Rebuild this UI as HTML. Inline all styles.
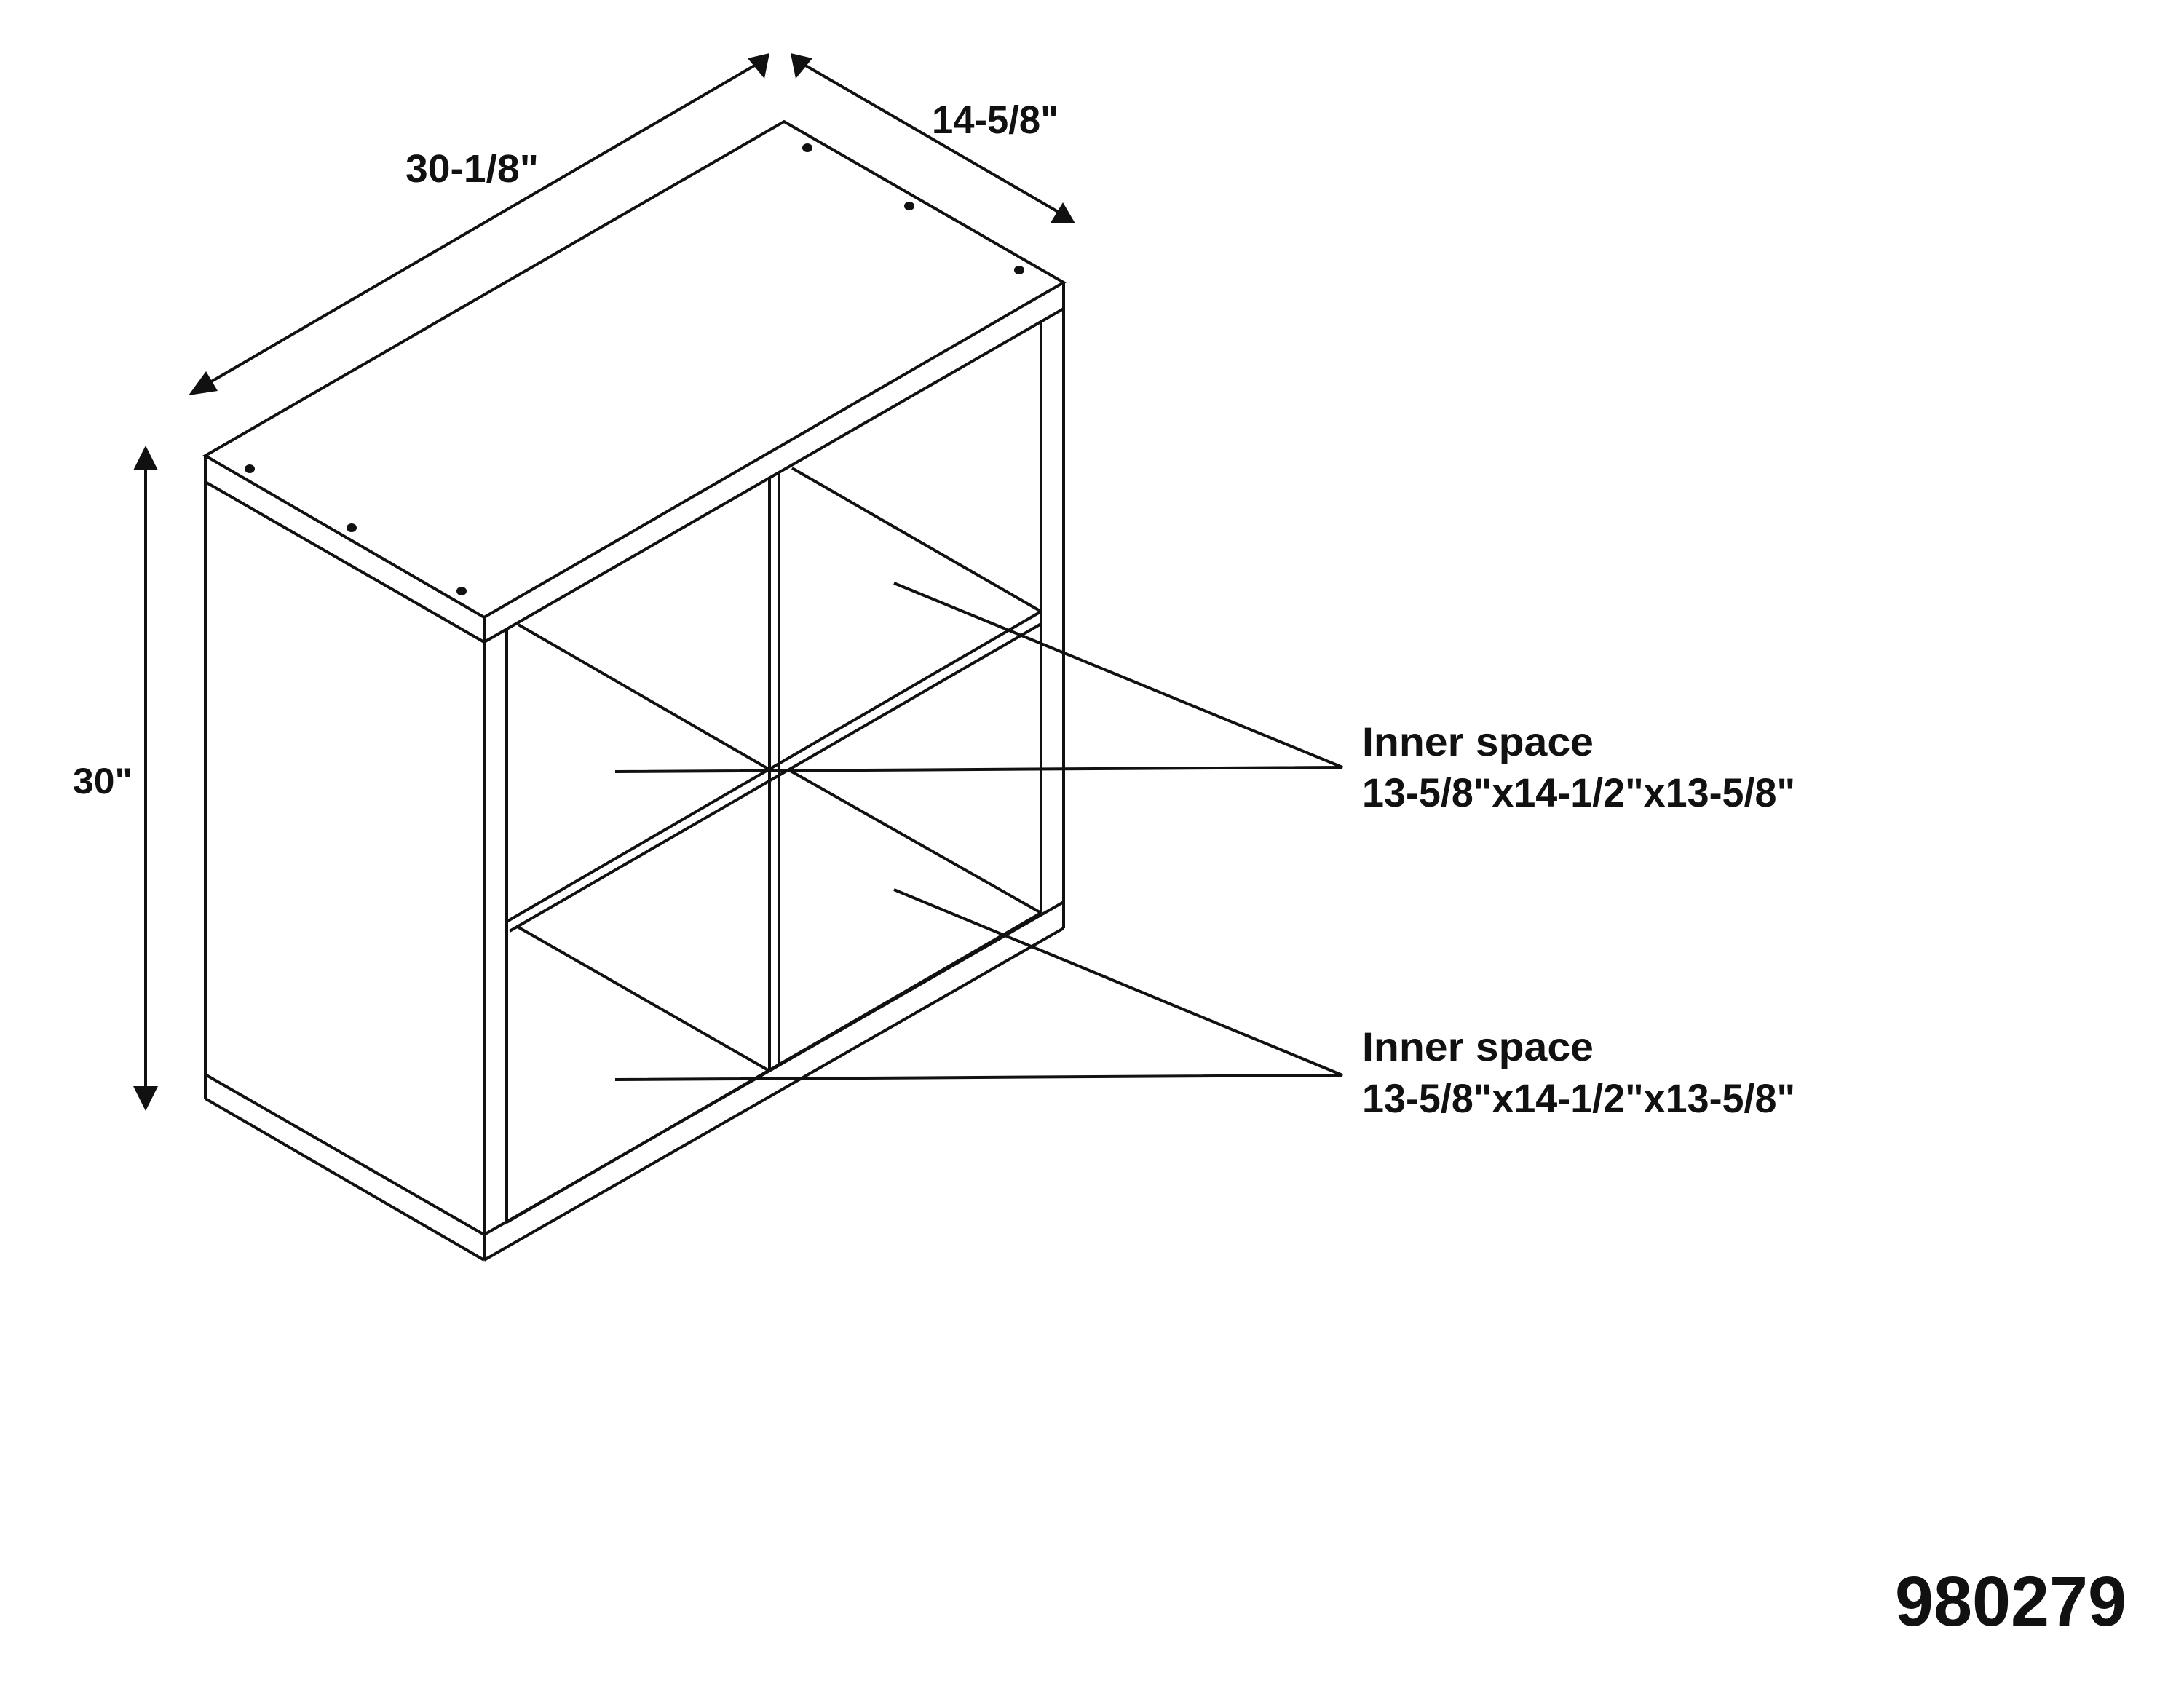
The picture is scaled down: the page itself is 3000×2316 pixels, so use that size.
<!DOCTYPE html>
<html><head><meta charset="utf-8"><style>
html,body{margin:0;padding:0;background:#fff;}
svg{display:block;}
text{font-family:"Liberation Sans Narrow","Liberation Sans",sans-serif;font-weight:bold;fill:#111;}
</style></head><body>
<svg width="3000" height="2316" viewBox="0 0 3000 2316" xmlns="http://www.w3.org/2000/svg">
<rect width="3000" height="2316" fill="#fff"/>
<g stroke="#111" stroke-width="4" fill="none" stroke-linejoin="miter">
<polygon points="282,626 1077,167 1461,388 665,848"/>
<line x1="282" y1="626" x2="282" y2="1509"/>
<line x1="665" y1="848" x2="665" y2="1731"/>
<line x1="1461" y1="388" x2="1461" y2="1275"/>
<line x1="282" y1="662" x2="665" y2="882"/>
<line x1="665" y1="882" x2="1461" y2="424"/>
<line x1="282" y1="1476" x2="665" y2="1696"/>
<line x1="282" y1="1509" x2="665" y2="1731"/>
<line x1="665" y1="1696" x2="1461" y2="1239"/>
<line x1="665" y1="1731" x2="1461" y2="1275"/>
<line x1="696" y1="865" x2="696" y2="1679"/>
<line x1="1430" y1="441" x2="1430" y2="1254"/>
<line x1="1057" y1="655" x2="1057" y2="1470"/>
<line x1="1070" y1="648" x2="1070" y2="1463"/>
<line x1="696" y1="1679" x2="1430" y2="1254"/>
<line x1="696" y1="1266" x2="1430" y2="840"/>
<line x1="700" y1="1279" x2="1430" y2="857"/>
<line x1="712" y1="858" x2="1055" y2="1056"/>
<line x1="1088" y1="643" x2="1430" y2="840"/>
<line x1="1084" y1="1058" x2="1430" y2="1254"/>
<line x1="709" y1="1272" x2="1055" y2="1470"/>
<polyline points="1228,801 1844,1054 845,1060"/>
<polyline points="1228,1222 1844,1477 845,1483"/>
<line x1="275" y1="533" x2="1045" y2="85"/>
<line x1="1098" y1="85" x2="1462" y2="296"/>
<line x1="200" y1="645" x2="200" y2="1492"/>
</g>
<g fill="#111">
<ellipse cx="1109" cy="203" rx="7" ry="6"/>
<ellipse cx="1249" cy="283" rx="7" ry="6"/>
<ellipse cx="1400" cy="371" rx="7" ry="6"/>
<ellipse cx="343" cy="644" rx="7" ry="6"/>
<ellipse cx="483" cy="725" rx="7" ry="6"/>
<ellipse cx="634" cy="812" rx="7" ry="6"/>
<polygon points="259,543 283,510 299,537"/>
<polygon points="1057,73 1027,80 1050,108"/>
<polygon points="1086,73 1116,80 1093,108"/>
<polygon points="1477,307 1443,306 1460,278"/>
<polygon points="200,612 183,646 217,646"/>
<polygon points="200,1526 183,1492 217,1492"/>
</g>
<text x="557" y="250" font-size="54" textLength="183" lengthAdjust="spacingAndGlyphs">30-1/8"</text>
<text x="1280" y="183" font-size="54" textLength="174" lengthAdjust="spacingAndGlyphs">14-5/8"</text>
<text x="100" y="1090" font-size="50" textLength="82" lengthAdjust="spacingAndGlyphs" style="font-family:'Liberation Sans',sans-serif">30"</text>
<text x="1871" y="1038" font-size="56" textLength="318" lengthAdjust="spacingAndGlyphs">Inner space</text>
<text x="1871" y="1108" font-size="56" textLength="595" lengthAdjust="spacingAndGlyphs">13-5/8"x14-1/2"x13-5/8"</text>
<text x="1871" y="1457" font-size="56" textLength="318" lengthAdjust="spacingAndGlyphs">Inner space</text>
<text x="1871" y="1528" font-size="56" textLength="595" lengthAdjust="spacingAndGlyphs">13-5/8"x14-1/2"x13-5/8"</text>
<text x="2603" y="2233" font-size="97" textLength="318" lengthAdjust="spacingAndGlyphs" style="font-family:'Liberation Sans',sans-serif">980279</text>
</svg>
</body></html>
